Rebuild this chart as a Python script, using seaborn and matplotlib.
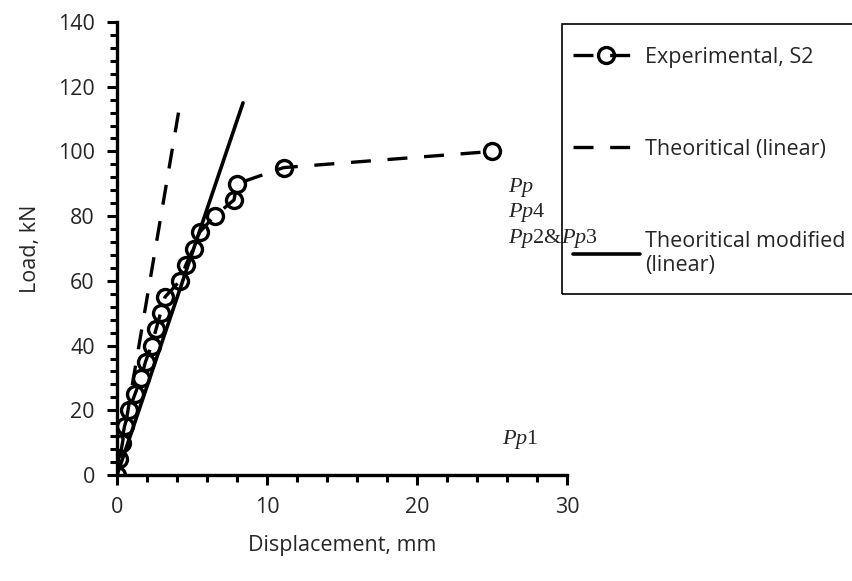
import numpy as np
import pandas as pd
import matplotlib
matplotlib.use("Agg")
import matplotlib.pyplot as plt
import seaborn as sns
from matplotlib.patches import Rectangle

# experimental load-displacement, S2
exp_disp = [0.0, 0.1, 0.3, 0.5, 0.8, 1.2, 1.6, 1.9, 2.3, 2.6, 2.9, 3.2, 4.2, 4.6, 5.1, 5.5, 6.5, 7.8, 8.0, 11.1, 25.0]
exp_load = [0, 5, 10, 15, 20, 25, 30, 35, 40, 45, 50, 55, 60, 65, 70, 75, 80, 85, 90, 95, 100]

# theoretical lines (end points, drawn from the top end)
lin_disp = [4.1, 0.0]
lin_load = [112, 0]
mod_disp = [0.0, 8.4]
mod_load = [0, 115]

# annotations
ann_text = ["$Pp$", "$Pp$4", "$Pp$2&$Pp$3", "$Pp$1"]
ann_x = [26.1, 26.1, 26.1, 25.7]
ann_y = [89, 81, 73, 11]

sns.set_style("ticks")
plt.rcParams["font.family"] = ["Open Sans", "DejaVu Sans"]
plt.rcParams["mathtext.fontset"] = "custom"
plt.rcParams["mathtext.it"] = "Liberation Serif:italic"
plt.rcParams["mathtext.rm"] = "Liberation Serif"

fs = 15.5

fig = plt.figure(figsize=(8.52, 5.81), dpi=100)
ax = fig.add_axes([117 / 852, 106 / 581, 450 / 852, 453 / 581])

exp_df = pd.DataFrame({"disp": exp_disp, "load": exp_load})
sns.lineplot(data=exp_df, x="disp", y="load", ax=ax, sort=False, color="black",
             lw=2.4, dashes=False, marker="o", markersize=11.5, markerfacecolor="none",
             markeredgecolor="black", markeredgewidth=2.4, label="Experimental, S2")
ax.lines[-1].set_dashes([6, 5])

sns.lineplot(x=lin_disp, y=lin_load, ax=ax, sort=False, color="black", lw=2.4,
             label="Theoritical (linear)")
ax.lines[-1].set_dashes([6, 5])
sns.lineplot(x=mod_disp, y=mod_load, ax=ax, color="black", lw=2.6,
             label="Theoritical modified\n(linear)")

for t, x, y in zip(ann_text, ann_x, ann_y):
    ax.text(x, y, t, fontsize=16, family="Liberation Serif", va="center", ha="left",
            clip_on=False)

ax.set_xlim(0, 30)
ax.set_ylim(0, 140)
ax.set_xticks([0, 10, 20, 30])
ax.set_yticks(np.arange(0, 141, 20))
ax.set_xticks(np.arange(0, 31, 2), minor=True)
ax.set_yticks(np.arange(0, 141, 4), minor=True)
ax.tick_params(axis="both", which="major", length=7, width=2.2, labelsize=fs, pad=9, color="black")
ax.tick_params(axis="both", which="minor", length=5, width=2.2, color="black")
for s in ["left", "bottom"]:
    ax.spines[s].set_linewidth(2.4)
    ax.spines[s].set_color("black")
sns.despine(ax=ax)
ax.set_xlabel("Displacement, mm", fontsize=fs, labelpad=12)
ax.set_ylabel("Load, kN", fontsize=fs, labelpad=12)

handles, labels = ax.get_legend_handles_labels()
ax.get_legend().remove()
fig.add_artist(Rectangle((562 / 852, 1 - 294 / 581), 320 / 852, 270 / 581,
                         transform=fig.transFigure, fill=False, lw=1.2, ec="black", zorder=4))
fig.legend(handles, labels, loc="upper left", bbox_to_anchor=(562 / 852, 1 - 36 / 581),
           frameon=False, fontsize=fs, handlelength=3.1, labelspacing=3.3,
           borderpad=0.5, borderaxespad=0, handletextpad=0.25, handleheight=0.7)

fig.savefig("out.png", dpi=100)
